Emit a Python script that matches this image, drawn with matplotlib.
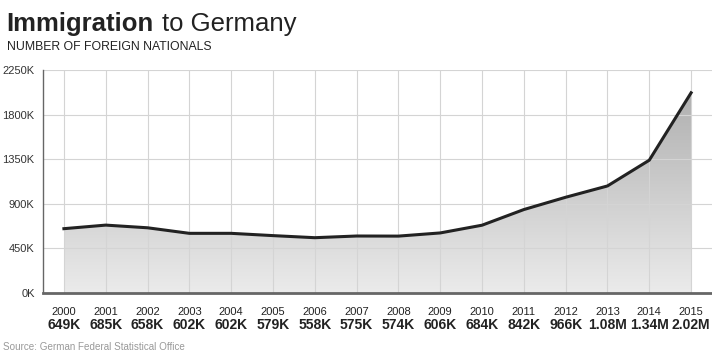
import numpy as np
import matplotlib.pyplot as plt
from matplotlib.patches import Polygon
from matplotlib.colors import LinearSegmentedColormap

plt.rcParams['font.family'] = ['Liberation Sans', 'DejaVu Sans']

# Data (thousands of foreign nationals)
years = [2000, 2001, 2002, 2003, 2004, 2005, 2006, 2007,
         2008, 2009, 2010, 2011, 2012, 2013, 2014, 2015]
values = [649, 685, 658, 602, 602, 579, 558, 575,
          574, 606, 684, 842, 966, 1080, 1340, 2020]
value_labels = ['649K', '685K', '658K', '602K', '602K', '579K', '558K', '575K',
                '574K', '606K', '684K', '842K', '966K', '1.08M', '1.34M', '2.02M']
y_ticks = [0, 450, 900, 1350, 1800, 2250]

W, H = 712, 351
fig = plt.figure(figsize=(W / 100, H / 100), dpi=100)
ax = fig.add_axes([43 / W, 1 - 293 / H, (712 - 43) / W, (293 - 70) / H])

ax.set_xlim(1999.5, 2015.5)
ax.set_ylim(0, 2250)

# gradient area under the line
verts = [(years[0], 0)] + list(zip(years, values)) + [(years[-1], 0)]
poly = Polygon(verts, closed=True, facecolor='none', edgecolor='none')
ax.add_patch(poly)
grad = np.linspace(0, 1, 256).reshape(-1, 1)
cmap = LinearSegmentedColormap.from_list('g', ['#ebebeb', '#b0b0b0'])
im = ax.imshow(grad, extent=[years[0], years[-1], 0, max(values)], origin='lower',
               cmap=cmap, aspect='auto', zorder=1)
im.set_clip_path(poly)

ax.plot(years, values, color='#222222', lw=2.2, zorder=3, solid_joinstyle='round')

ax.set_xticks(years)
ax.set_yticks(y_ticks)
ax.set_yticklabels([f'{v}K' for v in y_ticks], fontsize=8, color='#333333')
ax.set_xticklabels([])
ax.tick_params(length=0, pad=6)
ax.grid(True, color='#d4d4d4', lw=0.8)
ax.set_axisbelow('line')

for s in ['top', 'right']:
    ax.spines[s].set_visible(False)
ax.spines['left'].set_color('#666666')
ax.spines['left'].set_linewidth(1)
ax.spines['bottom'].set_color('#666666')
ax.spines['bottom'].set_linewidth(2)
ax.spines['bottom'].set_zorder(4)

for yr, lab in zip(years, value_labels):
    ax.text(yr, -0.085, str(yr), transform=ax.get_xaxis_transform(),
            ha='center', va='center', fontsize=8, color='#222222')
    ax.text(yr, -0.145, lab, transform=ax.get_xaxis_transform(),
            ha='center', va='center', fontsize=10, fontweight='bold', color='#222222')

t1 = fig.text(6 / W, 1 - 24 / H, 'Immigration', fontsize=18.5, fontweight='bold',
              color='#222222', va='center', ha='left')
fig.canvas.draw()
bb = t1.get_window_extent()
fig.text((bb.x1 + 9) / W, 1 - 24 / H, 'to Germany', fontsize=18.5,
         color='#222222', va='center', ha='left')
fig.text(7 / W, 1 - 47 / H, 'NUMBER OF FOREIGN NATIONALS', fontsize=8.8,
         color='#222222', va='center', ha='left')
fig.text(3 / W, 1 - 347 / H, 'Source: German Federal Statistical Office', fontsize=7.1,
         color='#999999', va='center', ha='left')

fig.savefig('out.png', dpi=100, facecolor='white')
